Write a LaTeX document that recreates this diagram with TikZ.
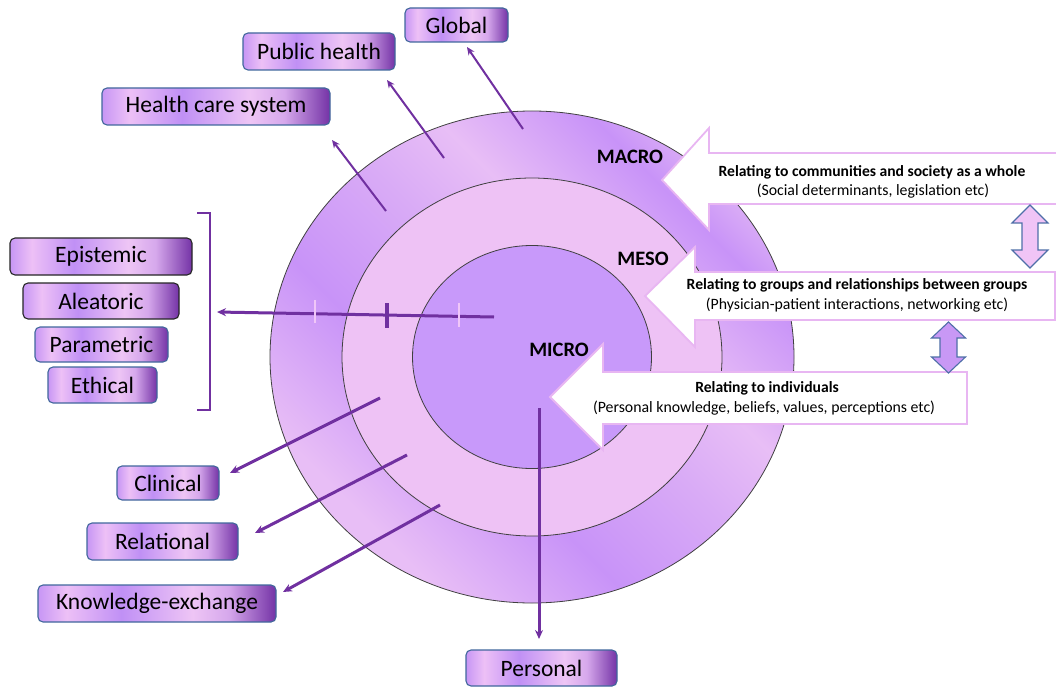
\documentclass[tikz,border=0pt]{standalone}
\usepackage{fontspec}
\setmainfont{Carlito}
\usetikzlibrary{arrows.meta,shapes.geometric}
\definecolor{apurple}{HTML}{7030A0}
\definecolor{ringL}{HTML}{E8BEF6}
\definecolor{ringP}{HTML}{C893F8}
\definecolor{ringM}{HTML}{D9ABF6}
\definecolor{mesofill}{HTML}{EEC2F5}
\definecolor{microfill}{HTML}{C899FA}
\definecolor{bA}{HTML}{C796F5}
\definecolor{bB}{HTML}{EDC0F6}
\definecolor{bC}{HTML}{C090F5}
\definecolor{bD}{HTML}{EEC5F5}
\definecolor{bE}{HTML}{D6A8EC}
\definecolor{bF}{HTML}{7433A6}
\definecolor{boxborder}{HTML}{41679C}
\definecolor{blockborder}{HTML}{E8B6F2}
\definecolor{dablue}{HTML}{4F6FA8}
\definecolor{dafillA}{HTML}{F0C4F6}
\definecolor{dafillB}{HTML}{C898F5}
\definecolor{lighttick}{HTML}{F0C6F8}
\pgfdeclarehorizontalshading{boxshade}{100bp}{color(0bp)=(bA); color(25bp)=(bA); color(31bp)=(bB); color(42.5bp)=(bC); color(57.5bp)=(bD); color(65bp)=(bE); color(75bp)=(bF); color(100bp)=(bF)}
\pgfdeclarehorizontalshading{ringshade}{100bp}{color(0bp)=(ringL); color(27bp)=(ringL); color(40bp)=(ringP); color(52bp)=(ringM); color(60bp)=(ringL); color(71bp)=(ringP); color(75bp)=(ringM); color(100bp)=(ringM)}
\tikzset{
  lbox/.style={shade, shading=boxshade, draw=boxborder, line width=1.1pt, rounded corners=5pt,
    inner sep=0pt, font=\fontsize{23.5}{25}\selectfont, text=black},
  lboxdark/.style={lbox, draw=black!85},
  ring/.style={draw=black!75, line width=0.8pt, ellipse, inner sep=0pt},
  conn/.style={draw=apurple, line width=3pt, -{Stealth[length=9pt,width=8pt]}},
  connthin/.style={draw=apurple, line width=2pt, -{Stealth[length=8pt,width=7pt]}},
  blockarrow/.style={fill=white, draw=blockborder, line width=1.8pt, line join=miter},
  dbl/.style={draw=dablue, line width=1.1pt, line join=miter},
  level/.style={font=\bfseries\fontsize{20.5}{22}\selectfont},
  head/.style={font=\bfseries\fontsize{15.6}{17}\selectfont},
  sub/.style={font=\fontsize{15.8}{17}\selectfont},
}
\begin{document}
\begin{tikzpicture}[x=1pt,y=-1pt]
\useasboundingbox (0,0) rectangle (1056,687);
% rings
\node[ring, shade, shading=ringshade, shading angle=45, minimum width=524pt, minimum height=492pt] (outer) at (532,357) {};
\node[ring, fill=mesofill, minimum width=380pt, minimum height=358pt] (mid) at (532,357) {};
\node[ring, fill=microfill, minimum width=239pt, minimum height=223pt] (inner) at (532,357) {};

% top boxes
\node[lbox, minimum width=103pt, minimum height=34pt] (global) at (456.5,25) {Global};
\node[lbox, minimum width=152pt, minimum height=37pt] (public) at (319,51.5) {Public health};
\node[lbox, minimum width=228pt, minimum height=37pt] (hcs) at (216,106.5) {Health care system};
% left boxes
\node[lboxdark, minimum width=182pt, minimum height=37pt] (epi) at (101,256.5) {Epistemic};
\node[lboxdark, minimum width=156pt, minimum height=36pt] (ale) at (101,301) {Aleatoric};
\node[lbox, minimum width=133pt, minimum height=35pt] (par) at (101.5,344.5) {Parametric};
\node[lbox, minimum width=109pt, minimum height=36pt] (eth) at (102.5,385) {Ethical};
% bottom boxes
\node[lbox, minimum width=102pt, minimum height=34pt] (clin) at (168,483) {Clinical};
\node[lbox, minimum width=151pt, minimum height=37pt] (rel) at (162.5,541.5) {Relational};
\node[lbox, minimum width=238pt, minimum height=37pt] (kex) at (157,603.5) {Knowledge-exchange};
\node[lbox, minimum width=151pt, minimum height=36pt] (pers) at (541.5,668) {Personal};

% connector coordinates
\coordinate (gS) at (523,129); \coordinate (gE) at (467,47);
\coordinate (pS) at (444,158); \coordinate (pE) at (387,80);
\coordinate (hS) at (386,211); \coordinate (hE) at (332,140);
\coordinate (cS) at (380,398); \coordinate (cE) at (230,473);
\coordinate (rS) at (407,455); \coordinate (rE) at (255,533);
\coordinate (kS) at (440,505); \coordinate (kE) at (283,592);
\coordinate (perS) at (539,408); \coordinate (perE) at (539,639);
\coordinate (uS) at (494,317); \coordinate (uE) at (217,312);

\draw[connthin] (gS) -- (gE);
\draw[connthin] (pS) -- (pE);
\draw[connthin] (hS) -- (hE);
\draw[conn] (cS) -- (cE);
\draw[conn] (rS) -- (rE);
\draw[conn] (kS) -- (kE);
\draw[conn] (perS) -- (perE);
\draw[conn] (uS) -- (uE);
% ticks
\draw[lighttick, line width=2.6pt] (315,300) -- (315,323);
\draw[apurple, line width=3.2pt] (387,303) -- (387,328);
\draw[lighttick, line width=2.6pt] (459,303) -- (459,327);
% bracket
\coordinate (brT) at (197,213); \coordinate (brB) at (197,410);
\draw[apurple, line width=2.8pt, line join=miter] (brT) -- (210,213) -- (210,410) -- (brB);

% block arrows
\draw[blockarrow] (662,180) -- (709,128) -- (709,153) -- (1062,153) -- (1062,204) -- (709,204) -- (709,230) -- cycle;
\draw[blockarrow] (645,296) -- (695,247) -- (695,272) -- (1055,272) -- (1055,320) -- (695,320) -- (695,347) -- cycle;
\draw[blockarrow] (550,397) -- (603,344) -- (603,372) -- (967,372) -- (967,424) -- (603,424) -- (603,450) -- cycle;

% texts in block arrows
\node[head] (macroT) at (872,172) {Relating to communities and society as a whole};
\node[sub] (macroS) at (873,191) {(Social determinants, legislation etc)};
\node[head] (mesoT) at (857,285) {Relating to groups and relationships between groups};
\node[sub] (mesoS) at (857,305) {(Physician-patient interactions, networking etc)};
\node[head] (microT) at (767,388) {Relating to individuals};
\node[sub] (microS) at (764,408) {(Personal knowledge, beliefs, values, perceptions etc)};

% level labels
\node[level] (macroL) at (630,157) {MACRO};
\node[level] (mesoL) at (643,259) {MESO};
\node[level] (microL) at (559,350) {MICRO};

% double arrows
\draw[dbl, fill=dafillA] (1030,205) -- (1048,223) -- (1038,223) -- (1038,250) -- (1048,250) -- (1030,268) -- (1012,250) -- (1022,250) -- (1022,223) -- (1012,223) -- cycle;
\draw[dbl, fill=dafillB] (948.5,322) -- (965.5,338) -- (957,338) -- (957,357) -- (965.5,357) -- (948.5,373) -- (931.5,357) -- (940,357) -- (940,338) -- (931.5,338) -- cycle;
\end{tikzpicture}
\end{document}
